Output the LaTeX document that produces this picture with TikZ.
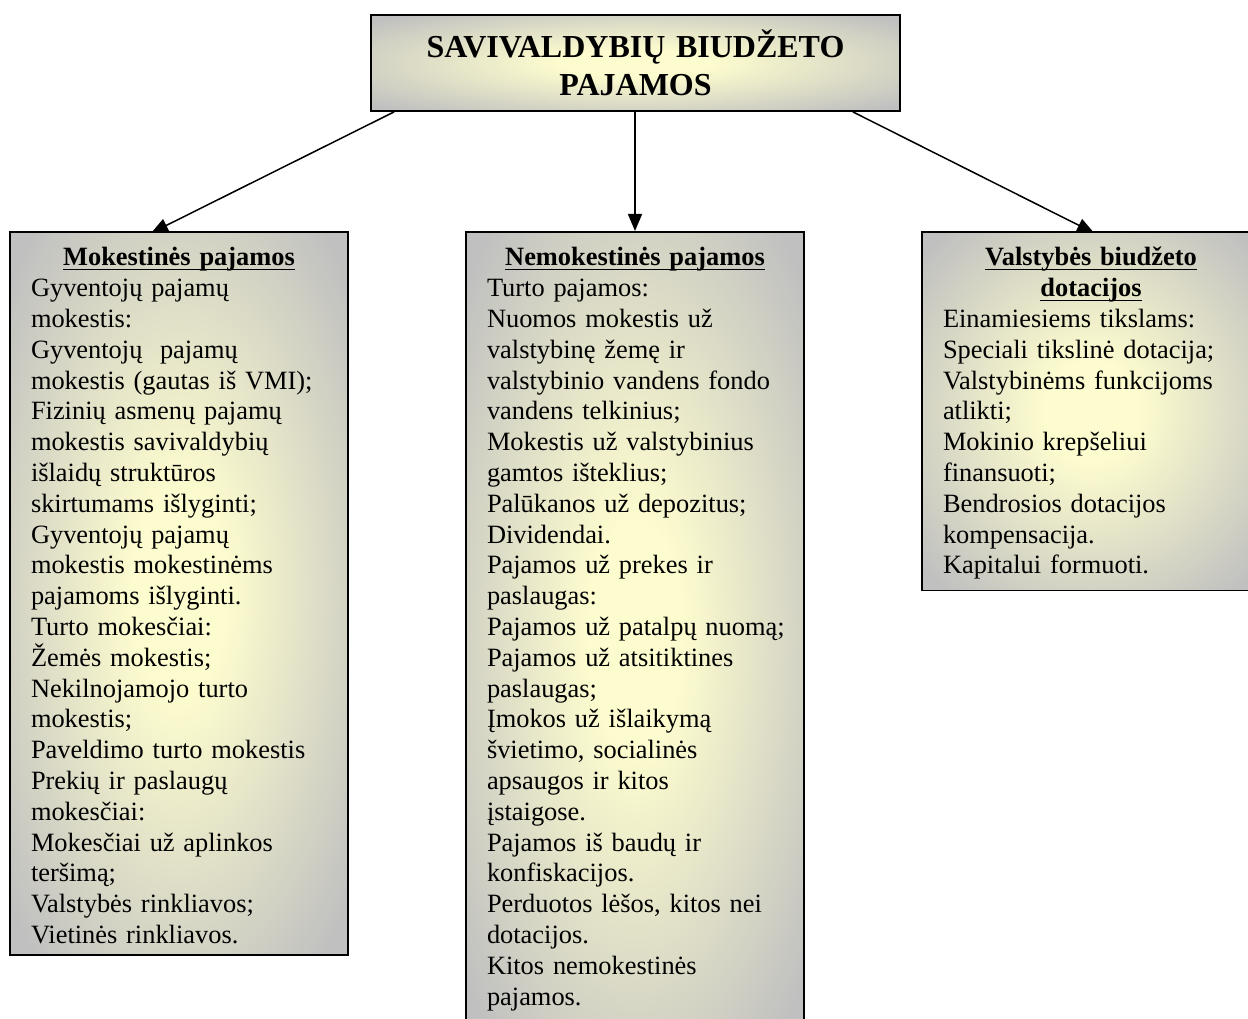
\documentclass[tikz,border=0pt]{standalone}
\usepackage{amsmath}
\usepackage{fontspec}
\setmainfont{Liberation Serif}
\usetikzlibrary{arrows.meta, positioning, backgrounds}

\definecolor{boxgray}{RGB}{192,192,192}
\definecolor{glowyellow}{RGB}{253,252,206}
\pgfdeclareradialshading{boxglow}{\pgfpoint{0bp}{0bp}}{color(0bp)=(glowyellow); color(7bp)=(glowyellow); color(33bp)=(boxgray); color(50bp)=(boxgray)}

\newcommand{\hdline}[1]{\underline{\smash[b]{#1}}}
\newcommand{\boxhead}[1]{{\centering\rule{0pt}{23pt}\bfseries #1\par}}

\begin{document}
\begin{tikzpicture}[x=1pt, y=-1pt,
    infobox/.style={draw=black, line width=1.8pt, shading=boxglow, rectangle,
        text width=296pt, inner xsep=21pt, inner ysep=11pt, align=left, anchor=north,
        font=\fontsize{26.4}{30.8}\selectfont},
    titlebox/.style={draw=black, line width=1.8pt, shading=boxglow, rectangle,
        text width=509pt, inner xsep=10pt, minimum height=96pt, align=center,
        font=\bfseries\fontsize{32}{38}\selectfont},
    link/.style={line width=1.5pt, -{Triangle[length=17pt,width=14pt]}}]
        \useasboundingbox (0,0) rectangle (1248,1019);
        \clip (0,0) rectangle (1248,1019);
        \node[titlebox] (budget) at (635.5,63) {SAVIVALDYBIŲ BIUDŽETO\\PAJAMOS};
        \node[infobox] (tax) at (179,231) {\boxhead{\hdline{Mokestinės pajamos}}
            Gyventojų pajamų\\
            mokestis:\\
            Gyventojų\ \ pajamų\\
            mokestis (gautas iš VMI);\\
            Fizinių asmenų pajamų\\
            mokestis savivaldybių\\
            išlaidų struktūros\\
            skirtumams išlyginti;\\
            Gyventojų pajamų\\
            mokestis mokestinėms\\
            pajamoms išlyginti.\\
            Turto mokesčiai:\\
            Žemės mokestis;\\
            Nekilnojamojo turto\\
            mokestis;\\
            Paveldimo turto mokestis\\
            Prekių ir paslaugų\\
            mokesčiai:\\
            Mokesčiai už aplinkos\\
            teršimą;\\
            Valstybės rinkliavos;\\
            Vietinės rinkliavos.};
        \node[infobox] (nontax) at (635,231) {\boxhead{\hdline{Nemokestinės pajamos}}
            Turto pajamos:\\
            Nuomos mokestis už\\
            valstybinę žemę ir\\
            valstybinio vandens fondo\\
            vandens telkinius;\\
            Mokestis už valstybinius\\
            gamtos išteklius;\\
            Palūkanos už depozitus;\\
            Dividendai.\\
            Pajamos už prekes ir\\
            paslaugas:\\
            \mbox{Pajamos už patalpų nuomą;}\\
            Pajamos už atsitiktines\\
            paslaugas;\\
            Įmokos už išlaikymą\\
            švietimo, socialinės\\
            apsaugos ir kitos\\
            įstaigose.\\
            Pajamos iš baudų ir\\
            konfiskacijos.\\
            Perduotos lėšos, kitos nei\\
            dotacijos.\\
            Kitos nemokestinės\\
            pajamos.\rule[-18pt]{0pt}{18pt}};
        \node[infobox] (grants) at (1091,231) {\boxhead{\hdline{Valstybės biudžeto}\\\hdline{dotacijos}}
            Einamiesiems tikslams:\\
            Speciali tikslinė dotacija;\\
            Valstybinėms funkcijoms\\
            atlikti;\\
            Mokinio krepšeliui\\
            finansuoti;\\
            Bendrosios dotacijos\\
            kompensacija.\\
            Kapitalui formuoti.};
        \begin{scope}[on background layer]
        \draw[link] ([xshift=24pt]budget.south west) to ([xshift=142pt,yshift=-2pt]tax.north west);
        \draw[link] (budget.south -| nontax.north) to (nontax.north);
        \draw[link] ([xshift=-48pt]budget.south east) to ([xshift=173pt,yshift=-2pt]grants.north west);
        \end{scope}
    \end{tikzpicture}
\end{document}
